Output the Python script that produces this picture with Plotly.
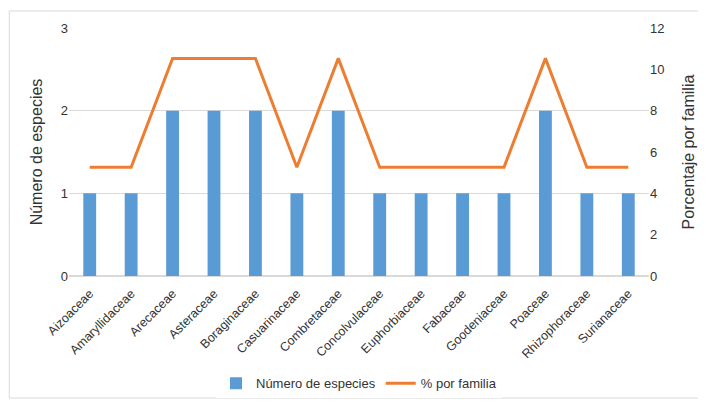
import plotly.graph_objects as go

familias = ["Aizoaceae", "Amaryllidaceae", "Arecaceae", "Asteraceae", "Boraginaceae",
            "Casuarinaceae", "Combretaceae", "Concolvulaceae", "Euphorbiaceae", "Fabaceae",
            "Goodeniaceae", "Poaceae", "Rhizophoraceae", "Surianaceae"]
num_especies = [1, 1, 2, 2, 2, 1, 2, 1, 1, 1, 1, 2, 1, 1]
pct_familia = [5.26, 5.26, 10.53, 10.53, 10.53, 5.26, 10.53, 5.26, 5.26, 5.26, 5.26, 10.53, 5.26, 5.26]

font = "Liberation Sans Narrow, Arial Narrow, Liberation Sans, sans-serif"
txt = "#333333"

fig = go.Figure()
fig.add_trace(go.Bar(x=familias, y=num_especies, name="Número de especies",
                     marker=dict(color="#5B9BD5", line=dict(width=0)), width=0.31))
fig.add_trace(go.Scatter(x=familias, y=pct_familia, name="% por familia", yaxis="y2",
                         mode="lines", line=dict(color="#ED7D31", width=3)))

# page body has an 8px default margin, so the figure is 8px smaller than the window
fig.update_layout(
    width=698, height=395,
    margin=dict(l=61, r=57, t=20, b=127, autoexpand=False),
    plot_bgcolor="white", paper_bgcolor="white",
    font=dict(family=font, size=13, color=txt),
    xaxis=dict(tickangle=-45, tickfont=dict(size=12.5), showgrid=False, ticks="",
               showline=False, automargin=False, ticklabelstandoff=7),
    yaxis=dict(range=[0, 3], dtick=1, gridcolor="#D9D9D9", zeroline=True,
               zerolinecolor="#D9D9D9", title=dict(text="Número de especies", standoff=14),
               ticks="", tickfont=dict(size=13), automargin=False),
    yaxis2=dict(range=[0, 12], dtick=2, overlaying="y", side="right", showgrid=False,
                zeroline=False, title=dict(text="Porcentaje por familia", standoff=19),
                ticks="", tickfont=dict(size=13), automargin=False),
    legend=dict(orientation="h", x=0.5, xanchor="center", yref="container", y=0.05,
                yanchor="middle", font=dict(size=13), traceorder="normal"),
    shapes=[dict(type="rect", xref="paper", yref="paper", x0=-0.103, x1=1.0897,
                 y0=-0.492, y1=1.0685, line=dict(color="#D9D9D9", width=1))],
)

fig.write_html("out.html")
